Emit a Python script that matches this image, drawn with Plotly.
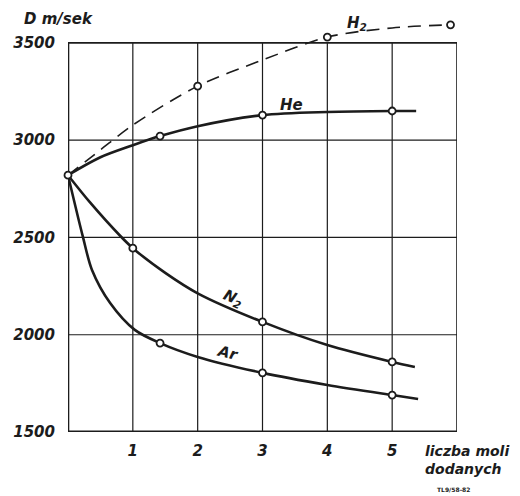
import plotly.graph_objects as go

# ---- data ----
x_ticks = [1, 2, 3, 4, 5]
y_ticks = [1500, 2000, 2500, 3000, 3500]
x_grid = [0, 1, 2, 3, 4, 5, 6]

h2_x = [0, 0.5, 1, 2, 3, 4, 5, 5.9]
h2_y = [2820, 2950, 3078, 3278, 3412, 3530, 3577, 3593]
h2_mx = [2, 4, 5.9]
h2_my = [3278, 3530, 3593]

he_x = [0, 0.5, 1, 1.42, 2, 3, 4, 5, 5.37]
he_y = [2820, 2912, 2974, 3021, 3072, 3129, 3145, 3150, 3150]
he_mx = [1.42, 3, 5]
he_my = [3021, 3129, 3150]

n2_x = [0, 0.34, 0.8, 1, 1.5, 2, 3, 4, 5, 5.35]
n2_y = [2820, 2680, 2510, 2445, 2318, 2213, 2066, 1947, 1860, 1834]
n2_mx = [1, 3, 5]
n2_my = [2445, 2066, 1860]

ar_x = [0, 0.23, 0.37, 0.65, 1.03, 1.42, 2, 3, 4, 5, 5.4]
ar_y = [2820, 2503, 2333, 2163, 2025, 1957, 1886, 1804, 1742, 1690, 1670]
ar_mx = [1.42, 3, 5]
ar_my = [1957, 1804, 1690]

start_x = [0]
start_y = [2820]

INK = "#1c1c1c"
FONT = "DejaVu Sans"

fig = go.Figure()

def curve(x, y, dash="solid", width=2.6):
    fig.add_trace(go.Scatter(x=x, y=y, mode="lines",
                             line=dict(color=INK, width=width, dash=dash,
                                       shape="spline", smoothing=0.85),
                             hoverinfo="skip", showlegend=False))

def marks(x, y):
    fig.add_trace(go.Scatter(x=x, y=y, mode="markers",
                             marker=dict(size=7, color="white",
                                         line=dict(color=INK, width=1.8)),
                             cliponaxis=False, showlegend=False))

curve(h2_x, h2_y, dash="13px,8px", width=1.6)
curve(he_x, he_y)
curve(n2_x, n2_y)
curve(ar_x, ar_y)
marks(h2_mx, h2_my)
marks(he_mx, he_my)
marks(n2_mx, n2_my)
marks(ar_mx, ar_my)
marks(start_x, start_y)

# grid / frame drawn up to 3500 only
shapes = []
for gx in x_grid:
    w = 2.6 if gx == 0 else (1.6 if gx == 6 else 1.2)
    shapes.append(dict(type="line", xref="x", yref="y", x0=gx, x1=gx,
                       y0=y_ticks[0], y1=y_ticks[-1],
                       line=dict(color=INK, width=w), layer="below"))
for gy in y_ticks:
    w = 3 if gy == y_ticks[0] else (1.6 if gy == y_ticks[-1] else 1.2)
    shapes.append(dict(type="line", xref="x", yref="y", x0=x_grid[0], x1=x_grid[-1],
                       y0=gy, y1=gy, line=dict(color=INK, width=w), layer="below"))

tick_font = dict(family=FONT, size=15, color=INK)

annotations = [
    dict(x=0, y=1.0, xref="paper", yref="paper", xshift=-10, yshift=-15,
         text="<b><i>D m/sek</i></b>", showarrow=False, xanchor="center", yanchor="middle",
         font=dict(family=FONT, size=15, color=INK)),
    dict(x=4.46, y=3598, text="<b><i>H<sub>2</sub></i></b>", showarrow=False,
         font=dict(family=FONT, size=15, color=INK)),
    dict(x=3.44, y=3181, text="<b><i>He</i></b>", showarrow=False,
         font=dict(family=FONT, size=15, color=INK)),
    dict(x=2.55, y=2185, text="<b><i>N<sub>2</sub></i></b>", showarrow=False, textangle=24,
         font=dict(family=FONT, size=15, color=INK)),
    dict(x=2.47, y=1905, text="<b><i>Ar</i></b>", showarrow=False, textangle=14,
         font=dict(family=FONT, size=15, color=INK)),
    dict(x=1.0, y=0, xref="paper", yref="paper", xshift=-34, yshift=-19,
         text="<b><i>liczba moli</i></b>", showarrow=False, xanchor="left", yanchor="middle",
         font=dict(family=FONT, size=14, color=INK)),
    dict(x=1.0, y=0, xref="paper", yref="paper", xshift=-34, yshift=-37,
         text="<b><i>dodanych</i></b>", showarrow=False, xanchor="left", yanchor="middle",
         font=dict(family=FONT, size=14, color=INK)),
    dict(x=1.0, y=0, xref="paper", yref="paper", xshift=-22, yshift=-57,
         text="<b>TL9/58-82</b>", showarrow=False, xanchor="left", yanchor="middle",
         font=dict(family=FONT, size=6, color=INK)),
]

fig.update_layout(
    width=520, height=496,
    margin=dict(l=68, r=63, t=4, b=64),
    paper_bgcolor="white", plot_bgcolor="white",
    shapes=shapes, annotations=annotations,
    xaxis=dict(range=[0, 6], showgrid=False, zeroline=False, showline=False,
               tickvals=x_ticks, ticktext=[f"<b><i>{v}</i></b>" for v in x_ticks],
               ticks="", ticklabelstandoff=8, tickfont=tick_font, fixedrange=True),
    yaxis=dict(range=[1500, 3700], showgrid=False, zeroline=False, showline=False,
               tickvals=y_ticks, ticktext=[f"<b><i>{v}</i></b>" for v in y_ticks],
               ticks="", ticklabelstandoff=12, tickfont=tick_font, fixedrange=True),
)

fig.write_html("out.html")
